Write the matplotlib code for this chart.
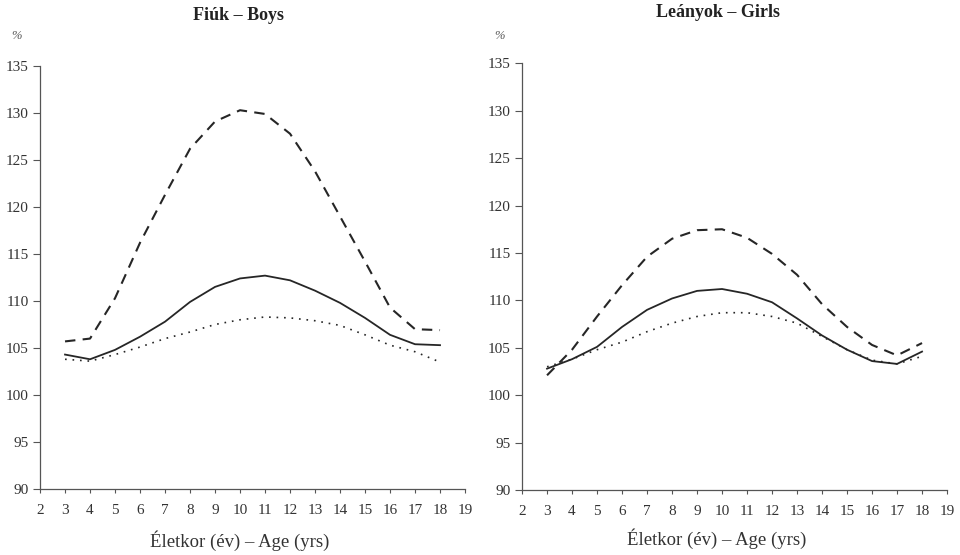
import numpy as np
import matplotlib.pyplot as plt

plt.rcParams['font.family'] = ['Liberation Serif', 'DejaVu Serif']

# Életkor (év) - age in years
ages = [3, 4, 5, 6, 7, 8, 9, 10, 11, 12, 13, 14, 15, 16, 17, 18]

# Fiúk - Boys
boys_solid = [104.3, 103.8, 104.8, 106.2, 107.8, 109.9, 111.5, 112.4, 112.7, 112.2, 111.1, 109.8, 108.2, 106.4, 105.4, 105.3]
boys_dashed = [105.7, 106.0, 110.3, 116.2, 121.3, 126.2, 129.1, 130.3, 129.9, 127.8, 123.8, 119.0, 114.2, 109.3, 107.0, 106.9]
boys_dotted = [103.8, 103.6, 104.3, 105.1, 106.0, 106.7, 107.5, 108.0, 108.3, 108.2, 107.9, 107.4, 106.4, 105.3, 104.6, 103.5]

# Leányok - Girls
girls_solid = [102.8, 103.8, 105.1, 107.2, 109.0, 110.2, 111.0, 111.2, 110.7, 109.8, 108.1, 106.3, 104.8, 103.6, 103.3, 104.6]
girls_dashed = [102.1, 104.8, 108.3, 111.6, 114.6, 116.5, 117.4, 117.5, 116.6, 114.9, 112.7, 109.6, 107.2, 105.3, 104.2, 105.5]
girls_dotted = [103.0, 103.8, 104.8, 105.6, 106.7, 107.6, 108.3, 108.7, 108.7, 108.3, 107.6, 106.2, 104.8, 103.7, 103.3, 104.1]

x_ticks = list(range(2, 20))
y_ticks = list(range(90, 140, 5))

fig = plt.figure(figsize=(9.6, 5.55), dpi=100)
ink = '#262626'

panels = [
    ([0.0417, 0.119, 0.4427, 0.762], boys_solid, boys_dashed, boys_dotted,
     'Fiúk – Boys', 0.248, 0.972, 0.250, 0.0265, 0.012),
    ([0.5438, 0.117, 0.4427, 0.769], girls_solid, girls_dashed, girls_dotted,
     'Leányok – Girls', 0.748, 0.977, 0.747, 0.030, 0.515),
]

for rect, solid, dashed, dotted, title, tx, ty, lx, ly, px in panels:
    ax = fig.add_axes(rect)
    ax.plot(ages, solid, color=ink, lw=1.3, ls='-')
    ax.plot(ages, dashed, color=ink, lw=1.5, dashes=(5, 3.5))
    ax.plot(ages, dotted, color=ink, lw=1.2, dashes=(1, 3.5))
    ax.set_xlim(2, 19)
    ax.set_ylim(90, 135)
    ax.set_xticks(x_ticks)
    ax.set_yticks(y_ticks)
    for s in ['top', 'right']:
        ax.spines[s].set_visible(False)
    for s in ['left', 'bottom']:
        ax.spines[s].set_color('#555555')
        ax.spines[s].set_linewidth(0.9)
    ax.tick_params(axis='y', direction='out', length=5, width=0.8, color='#555555',
                   labelsize=11, labelcolor='#333333', pad=3)
    ax.tick_params(axis='x', direction='out', length=3, width=0.8, color='#555555',
                   labelsize=11, labelcolor='#333333', pad=8)
    fig.text(tx, ty, title, ha='center', va='center', fontsize=13,
             fontweight='bold', color='#222222')
    fig.text(lx, ly, 'Életkor (év) – Age (yrs)', ha='center', va='center',
             fontsize=13.5, color='#333333')
    fig.text(px, 0.936, '%', ha='left', va='center', fontsize=9,
             style='italic', color='#555555')

fig.savefig('out.png', dpi=100, facecolor='white')
